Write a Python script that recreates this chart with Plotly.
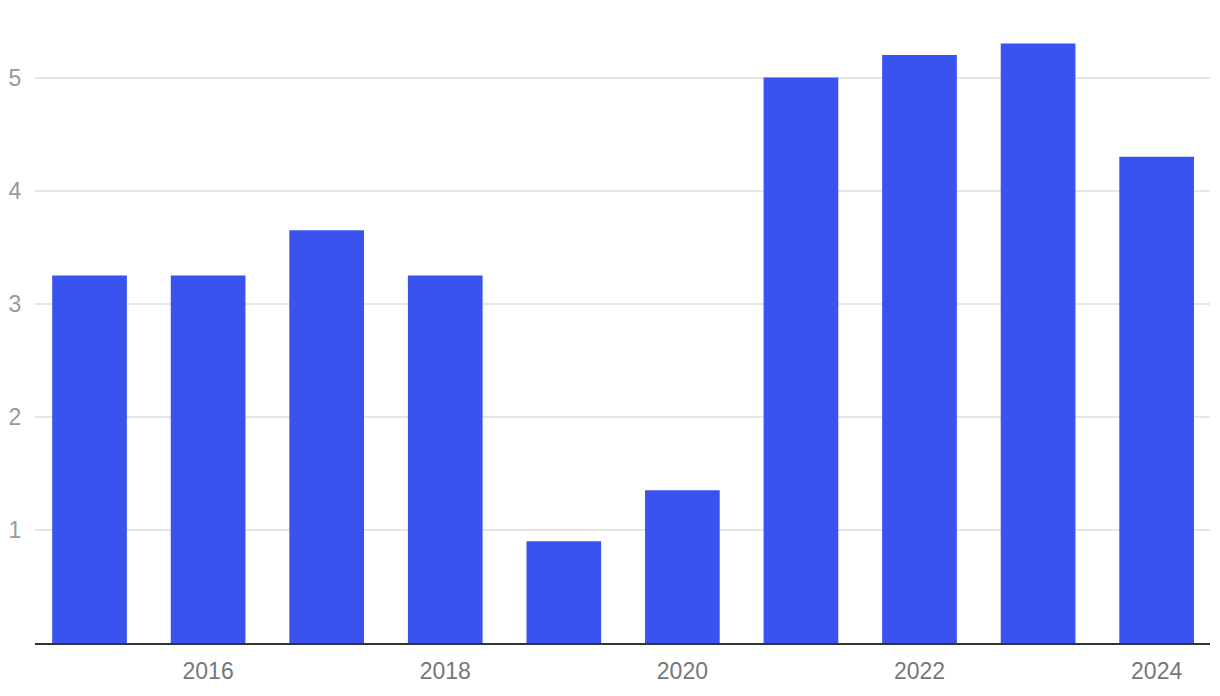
import plotly.graph_objects as go

years = [2015, 2016, 2017, 2018, 2019, 2020, 2021, 2022, 2023, 2024]
values = [3.25, 3.25, 3.65, 3.25, 0.9, 1.35, 5.0, 5.2, 5.3, 4.3]
x_ticks = [2016, 2018, 2020, 2022, 2024]
y_ticks = [1, 2, 3, 4, 5]

fig = go.Figure(go.Bar(x=years, y=values, width=0.63, marker_color="#3a53ee",
                       marker_line_width=0))

fig.update_layout(
    width=1220, height=696,
    margin=dict(l=35, r=10, t=21, b=53, autoexpand=False),
    paper_bgcolor="white", plot_bgcolor="white",
    showlegend=False,
    font=dict(family="Liberation Sans, Arial, sans-serif", size=23),
)
fig.update_xaxes(
    automargin=False,
    range=[2014.54, 2024.45],
    tickvals=x_ticks, ticktext=[str(t) for t in x_ticks],
    showgrid=False, zeroline=False,
    showline=True, linecolor="#333333", linewidth=2,
    ticks="outside", ticklen=6, tickcolor="rgba(0,0,0,0)",
    tickfont=dict(color="#777777", size=23),
)
fig.update_yaxes(
    automargin=False,
    range=[0, 5.5],
    tickvals=y_ticks, ticktext=[str(t) for t in y_ticks],
    showgrid=True, gridcolor="#e6e6e6", gridwidth=2,
    zeroline=False, showline=False,
    ticks="outside", ticklen=8, tickcolor="rgba(0,0,0,0)",
    tickfont=dict(color="#999999", size=23),
)

fig.write_html("out.html",
               config={"displayModeBar": False},
               post_script="document.body.style.margin='0';document.body.style.overflow='hidden';")
